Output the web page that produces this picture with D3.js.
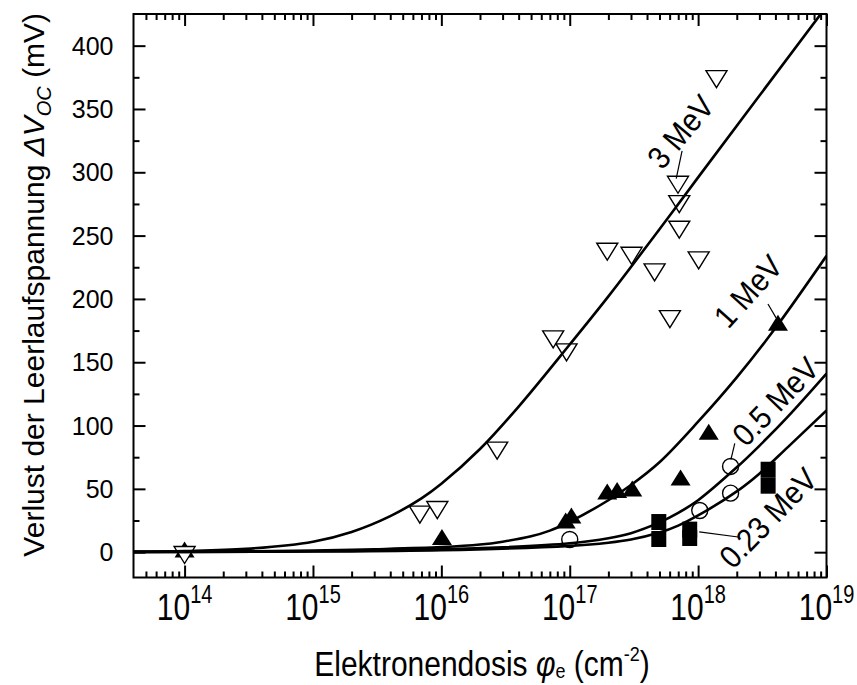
<!DOCTYPE html>
<html>
<head>
<meta charset="utf-8">
<script src="https://cdn.jsdelivr.net/npm/d3@7"></script>
<style>
  html, body { margin: 0; padding: 0; background: #fff; }
  svg text { font-family: "Liberation Sans", Arial, Helvetica, sans-serif; fill: #000; }
</style>
</head>
<body>
<svg id="chart" width="857" height="685"></svg>
<script>
// ---------------- data ----------------
// 3 MeV (open down triangles)
const mev3X = [1e14, 6.8e15, 9.3e15, 2.72e16, 7.43e16, 9.44e16, 1.96e17, 3.03e17, 4.58e17, 6.03e17, 6.97e17, 7.13e17, 7.13e17, 1.01e18, 1.39e18];
const mev3Y = [0, 31.9, 35.5, 82.4, 170.3, 160, 239.5, 236.3, 223.2, 186.3, 292.4, 277.1, 256.9, 232.7, 375.8];
// 1 MeV (filled up triangles)
const mev1X = [1e14, 1.01e16, 9.3e16, 1.03e17, 1.96e17, 2.34e17, 3.07e17, 7.3e17, 1.21e18, 4.19e18];
const mev1Y = [0, 9.8, 22.9, 26.8, 45.8, 46.9, 48.2, 56.8, 92.9, 179];
// 0.5 MeV (open circles)
const mev05X = [1e17, 1.03e18, 1.79e18, 1.79e18];
const mev05Y = [10.0, 32.9, 46.6, 67.7];
// 0.23 MeV (filled squares)
const mev023X = [4.94e17, 4.94e17, 8.6e17, 8.6e17, 3.51e18, 3.51e18];
const mev023Y = [23.8, 10.4, 17.8, 11.2, 65.1, 52.5];

// fit curves
const fit3X = [4e13, 1e14, 3e14, 1e15, 2e15, 4e15, 7e15, 1e16, 2e16, 4e16, 1e17, 2e17, 5e17, 1e18, 1e19];
const fit3Y = [0.4, 0.9, 2.6, 8.3, 16, 28.5, 42.5, 54, 81.5, 115, 164, 202, 255, 296, 431];
const fit1X = [4e13, 1e14, 1e15, 3e15, 1e16, 2e16, 3e16, 5e16, 7e16, 1e17, 2e17, 3e17, 5e17, 1e18, 2e18, 4e18, 1e19];
const fit1Y = [0.2, 0.4, 1.2, 2.3, 4.0, 6.0, 8.3, 12.5, 17, 24, 41, 53, 71, 103, 138, 177, 234];
const fit05X = [4e13, 1e14, 1e15, 1e16, 3e16, 1e17, 2e17, 3e17, 5e17, 7e17, 1e18, 2e18, 3e18, 5e18, 1e19];
const fit05Y = [0.1, 0.2, 0.7, 2.2, 3.8, 7, 11, 15, 23.5, 31, 41, 67, 84, 107, 141];
const fit023X = [4e13, 1e14, 1e15, 1e16, 1e17, 2e17, 3e17, 5e17, 7e17, 1e18, 2e18, 3e18, 5e18, 1e19];
const fit023Y = [0.1, 0.15, 0.5, 1.6, 5, 7.5, 10, 15.5, 21, 29, 48, 62, 83, 112];

// axes
const xMajorTicks = [1e14, 1e15, 1e16, 1e17, 1e18, 1e19];
const xTickExponents = ["14", "15", "16", "17", "18", "19"];
const yMajorTicks = [0, 50, 100, 150, 200, 250, 300, 350, 400];
const yMinorTicks = [25, 75, 125, 175, 225, 275, 325, 375];
const xDomain = [4e13, 1e19];
const yDomain = [-20, 425];

// curve labels
const curveLabels = ["3 MeV", "1 MeV", "0.5 MeV", "0.23 MeV"];

// ---------------- drawing ----------------
const W = 857, H = 685;
const m = { left: 133.5, right: W - 826.5, top: 14, bottom: H - 577.5 };
const pw = W - m.left - m.right, ph = H - m.top - m.bottom;

const svg = d3.select("#chart");
svg.append("rect").attr("width", W).attr("height", H).attr("fill", "#fff");
const g = svg.append("g").attr("transform", `translate(${m.left},${m.top})`);

const x = d3.scaleLog().domain(xDomain).range([0, pw]);
const y = d3.scaleLinear().domain(yDomain).range([ph, 0]);

// minor x ticks
const xMinor = [];
for (let e = 13; e <= 18; e++) for (let k = 2; k <= 9; k++) {
  const v = k * Math.pow(10, e);
  if (v > xDomain[0] * 1.0001 && v < xDomain[1]) xMinor.push(v);
}

const MAJ = 12, MIN = 6;
function styleAxis(sel) {
  sel.selectAll("path.domain").remove();
  sel.selectAll(".tick line").attr("stroke", "#000").attr("stroke-width", 2);
  sel.selectAll(".tick text").remove();
}
// bottom
g.append("g").attr("transform", `translate(0,${ph})`)
  .call(d3.axisBottom(x).tickValues(xMinor).tickSize(-MIN).tickFormat(""))
  .call(styleAxis);
g.append("g").attr("transform", `translate(0,${ph})`)
  .call(d3.axisBottom(x).tickValues(xMajorTicks).tickSize(-MAJ).tickFormat(""))
  .call(styleAxis);
// x tick labels: 10 with superscript exponent (slightly tall glyphs as in the original)
const xLab = svg.append("g").selectAll("text").data(xMajorTicks).join("text")
  .attr("transform", d => `translate(${m.left + x(d)},620) scale(1,1.25)`)
  .attr("text-anchor", "middle");
xLab.append("tspan").attr("font-size", 30).text("10");
xLab.append("tspan").attr("font-size", 20).attr("dy", -13.6).text((d, i) => xTickExponents[i]);

// top
g.append("g")
  .call(d3.axisTop(x).tickValues(xMinor).tickSize(-MIN).tickFormat(""))
  .call(styleAxis);
g.append("g")
  .call(d3.axisTop(x).tickValues(xMajorTicks).tickSize(-MAJ).tickFormat(""))
  .call(styleAxis);
// left
g.append("g")
  .call(d3.axisLeft(y).tickValues(yMinorTicks).tickSize(-MIN).tickFormat(""))
  .call(styleAxis);
g.append("g")
  .call(d3.axisLeft(y).tickValues(yMajorTicks).tickSize(-MAJ).tickFormat(""))
  .call(styleAxis);
svg.append("g").selectAll("text").data(yMajorTicks).join("text")
  .attr("x", m.left - 20)
  .attr("y", d => m.top + y(d))
  .attr("dy", "0.36em")
  .attr("text-anchor", "end")
  .attr("font-size", 25)
  .text(d => d3.format("d")(d));
// right
g.append("g").attr("transform", `translate(${pw},0)`)
  .call(d3.axisRight(y).tickValues(yMinorTicks).tickSize(-MIN).tickFormat(""))
  .call(styleAxis);
g.append("g").attr("transform", `translate(${pw},0)`)
  .call(d3.axisRight(y).tickValues(yMajorTicks).tickSize(-MAJ).tickFormat(""))
  .call(styleAxis);

// frame
g.append("rect").attr("width", pw).attr("height", ph)
  .attr("fill", "none").attr("stroke", "#000").attr("stroke-width", 2);

// clip for curves
svg.append("defs").append("clipPath").attr("id", "clip")
  .append("rect").attr("width", pw).attr("height", ph);

// markers
function downTri(w, h) { return `M${-w/2},${-h/3}L${w/2},${-h/3}L0,${2*h/3}Z`; }
function upTri(w, h) { return `M${-w/2},${h/3}L${w/2},${h/3}L0,${-2*h/3}Z`; }

const pts = (xs, ys) => xs.map((v, i) => ({ x: v, y: ys[i] }));

g.append("g").selectAll("path").data(pts(mev1X, mev1Y)).join("path")
  .attr("transform", d => `translate(${x(d.x)},${y(d.y)})`)
  .attr("d", upTri(20, 16)).attr("fill", "#000");

g.append("g").selectAll("rect").data(pts(mev023X, mev023Y)).join("rect")
  .attr("x", d => x(d.x) - 7.5).attr("y", d => y(d.y) - 8)
  .attr("width", 15).attr("height", 16).attr("fill", "#000");

g.append("g").selectAll("circle").data(pts(mev05X, mev05Y)).join("circle")
  .attr("cx", d => x(d.x)).attr("cy", d => y(d.y)).attr("r", 8)
  .attr("fill", "#fff").attr("stroke", "#000").attr("stroke-width", 1.4);

g.append("g").selectAll("path").data(pts(mev3X, mev3Y)).join("path")
  .attr("transform", d => `translate(${x(d.x)},${y(d.y)})`)
  .attr("d", downTri(21, 17)).attr("fill", "#fff").attr("stroke", "#000").attr("stroke-width", 1.4);

// curves
const line = d3.line().x(d => x(d.x)).y(d => y(d.y)).curve(d3.curveCatmullRom.alpha(0.5));
const curves = [pts(fit3X, fit3Y), pts(fit1X, fit1Y), pts(fit05X, fit05Y), pts(fit023X, fit023Y)];
g.append("g").attr("clip-path", "url(#clip)").selectAll("path").data(curves).join("path")
  .attr("d", line).attr("fill", "none").attr("stroke", "#000").attr("stroke-width", 2.6);

// curve labels with leader lines (positioned in data space)
const labelPos = [
  { x: 7.3e17, y: 332, rot: -50 },
  { x: 2.45e18, y: 206, rot: -48 },
  { x: 4.0e18, y: 119, rot: -46 },
  { x: 3.5e18, y: 27, rot: -46 }
];
const leaders = [
  [[7.5e17, 317], [6.75e17, 295]],
  [[3.5e18, 196], [4.05e18, 185]],
  [[1.93e18, 86], [1.8e18, 73]],
  [[1.02e18, 16], [2.05e18, 12]]
];
g.append("g").selectAll("line").data(leaders).join("line")
  .attr("x1", d => x(d[0][0])).attr("y1", d => y(d[0][1]))
  .attr("x2", d => x(d[1][0])).attr("y2", d => y(d[1][1]))
  .attr("stroke", "#000").attr("stroke-width", 1.2);
g.append("g").selectAll("text").data(labelPos).join("text")
  .attr("transform", d => `translate(${x(d.x)},${y(d.y)}) rotate(${d.rot}) scale(1,1.1)`)
  .attr("text-anchor", "middle").attr("dy", "0.35em")
  .attr("font-size", 29)
  .text((d, i) => curveLabels[i]);

// axis titles
const xt = svg.append("text")
  .attr("transform", `translate(${(m.left + W - m.right) / 2 + 2},676) scale(1,1.15)`)
  .attr("text-anchor", "middle").attr("font-size", 30);
xt.append("tspan").text("Elektronendosis ");
xt.append("tspan").attr("font-style", "italic").text("\u03C6");
xt.append("tspan").attr("font-size", 18).attr("dy", 2).text("e");
xt.append("tspan").attr("dy", -2).text(" (cm");
xt.append("tspan").attr("font-size", 18).attr("dy", -13).text("-2");
xt.append("tspan").attr("dy", 13).text(")");

const yt = svg.append("text")
  .attr("transform", `translate(44,${(m.top + H - m.bottom) / 2 - 11}) rotate(-90)`)
  .attr("text-anchor", "middle").attr("font-size", 30);
yt.append("tspan").text("Verlust der Leerlaufspannung ");
yt.append("tspan").attr("font-style", "italic").text("\u0394V");
yt.append("tspan").attr("font-style", "italic").attr("font-size", 20).attr("dy", 7).text("OC");
yt.append("tspan").attr("dy", -7).text(" (mV)");
</script>
</body>
</html>
